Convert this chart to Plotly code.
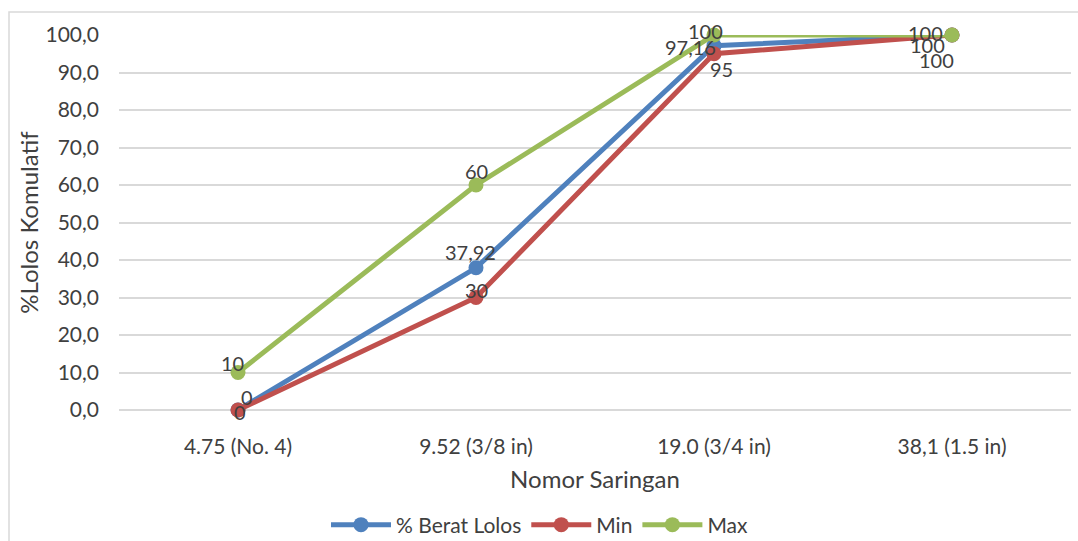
import plotly.graph_objects as go

# Sieve sizes (categories) and cumulative passing percentages
sieves = ["4.75 (No. 4)", "9.52 (3/8 in)", "19.0 (3/4 in)", "38,1 (1.5 in)"]
berat_lolos = [0, 37.92, 97.16, 100]
batas_min = [0, 30, 95, 100]
batas_max = [10, 60, 100, 100]

y_ticks = [0, 10, 20, 30, 40, 50, 60, 70, 80, 90, 100]

FONT = "Lato, 'Open Sans', sans-serif"
TXT = "#404040"

def fmt(v):
    s = f"{v:.2f}".rstrip("0").rstrip(".")
    return s.replace(".", ",")

# (name, values, colour, per-point label offsets in px: (dx, dy-down))
series = [
    ("% Berat Lolos", berat_lolos, "#4F81BD", [(9, -13), (-6, -16), (-24, 1), (-25, 10)]),
    ("Min", batas_min, "#C0504D", [(2, 2), (0, -8), (7, 15), (-16, 25)]),
    ("Max", batas_max, "#9BBB59", [(-6, -10), (0, -14), (-9, -4), (-27, -2)]),
]

fig = go.Figure()
annotations = []
for name, vals, color, offs in series:
    fig.add_trace(go.Scatter(
        x=sieves, y=vals, name=name,
        mode="lines+markers",
        line=dict(color=color, width=5),
        marker=dict(color=color, size=15),
        cliponaxis=False,
        hoverinfo="skip",
    ))
    for cat, v, (dx, dy) in zip(sieves, vals, offs):
        annotations.append(dict(
            x=cat, y=v, xref="x", yref="y", text=fmt(v), showarrow=False,
            xshift=dx, yshift=-dy, xanchor="center", yanchor="middle",
            font=dict(family=FONT, size=20, color=TXT),
        ))

W, H = 1078, 541
ml, mr, mt, mb = 119, 7, 35, 131
pw, ph = W - ml - mr, H - mt - mb

fig.update_layout(
    width=W, height=H,
    margin=dict(l=ml, r=mr, t=mt, b=mb, autoexpand=False),
    paper_bgcolor="white", plot_bgcolor="white",
    font=dict(family=FONT, size=20, color=TXT),
    showlegend=True,
    legend=dict(orientation="h", x=(326 - ml) / pw, xanchor="left",
                y=-(525 - (H - mb)) / ph, yanchor="middle",
                font=dict(family=FONT, size=21, color=TXT), traceorder="normal",
                itemwidth=60, bgcolor="rgba(0,0,0,0)"),
    annotations=annotations,
    xaxis=dict(
        type="category", range=[-0.5, 3.5],
        showgrid=False, zeroline=False, showline=False, ticks="",
        tickfont=dict(family=FONT, size=21, color=TXT),
        ticklabelstandoff=22,
        title=dict(text="Nomor Saringan", font=dict(family=FONT, size=24, color=TXT), standoff=14),
    ),
    yaxis=dict(
        range=[0, 100], tickvals=y_ticks,
        ticktext=[f"{v},0" for v in y_ticks],
        showgrid=True, gridcolor="#D9D9D9", gridwidth=1.5,
        zeroline=True, zerolinecolor="#D9D9D9", zerolinewidth=1.5,
        showline=False, ticks="",
        tickfont=dict(family=FONT, size=21, color=TXT),
        ticklabelstandoff=19,
        title=dict(text="%Lolos Komulatif", font=dict(family=FONT, size=24, color=TXT), standoff=0),
    ),
)

# Chart frame
fig.add_shape(type="rect", xref="paper", yref="paper",
              x0=(9 - ml) / pw, x1=(W + 5 - ml) / pw,
              y0=-(H + 5 - mt - ph) / ph, y1=(H - 12 - mb) / ph,
              line=dict(color="#D9D9D9", width=1.5), fillcolor="rgba(0,0,0,0)", layer="below")

fig.write_html("out.html")
